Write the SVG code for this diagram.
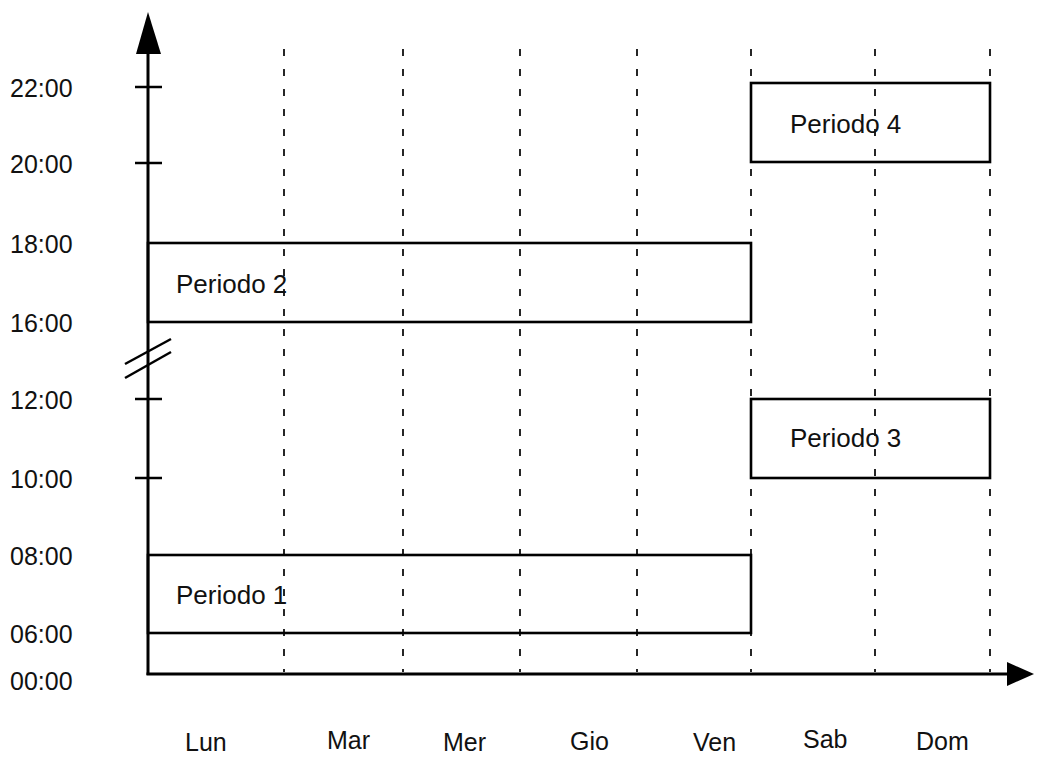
<svg xmlns="http://www.w3.org/2000/svg" width="1042" height="757" viewBox="0 0 1042 757">
  <style>
    .lbl { font-family: "Liberation Sans", Arial, sans-serif; font-size: 25px; fill: #111; }
    .plbl { font-size: 26px; }
    .axis { stroke: #000; stroke-width: 3; fill: none; }
    .tick { stroke: #000; stroke-width: 2.5; }
    .grid { stroke: #000; stroke-width: 1.7; stroke-dasharray: 7 13; }
    .period { fill: none; stroke: #000; stroke-width: 2.6; }
  </style>
  <rect width="1042" height="757" fill="#fff"/>

  <!-- day separators -->
  <g id="grid">
    <line class="grid" x1="284" y1="49" x2="284" y2="672"/>
    <line class="grid" x1="403" y1="49" x2="403" y2="672"/>
    <line class="grid" x1="520" y1="49" x2="520" y2="672"/>
    <line class="grid" x1="637" y1="49" x2="637" y2="672"/>
    <line class="grid" x1="751" y1="49" x2="751" y2="672"/>
    <line class="grid" x1="875" y1="49" x2="875" y2="672"/>
    <line class="grid" x1="990" y1="49" x2="990" y2="672"/>
  </g>

  <!-- time periods -->
  <g id="periodo4">
    <rect class="period" x="751" y="83" width="239" height="79"/>
    <text class="lbl plbl" x="790" y="133">Periodo 4</text>
  </g>
  <g id="periodo2">
    <rect class="period" x="148" y="243" width="603" height="79"/>
    <text class="lbl plbl" x="176" y="293">Periodo 2</text>
  </g>
  <g id="periodo3">
    <rect class="period" x="751" y="399" width="239" height="79"/>
    <text class="lbl plbl" x="790" y="447">Periodo 3</text>
  </g>
  <g id="periodo1">
    <rect class="period" x="148" y="555" width="603" height="78"/>
    <text class="lbl plbl" x="176" y="604">Periodo 1</text>
  </g>

  <!-- axes -->
  <g id="axes">
    <line class="axis" x1="148" y1="50" x2="148" y2="675"/>
    <polygon points="148,12 136,54 161,54" fill="#000"/>
    <line class="axis" x1="146.5" y1="674" x2="1010" y2="674"/>
    <polygon points="1007,662 1034,674 1007,686" fill="#000"/>
    <line class="tick" x1="135" y1="87" x2="162" y2="87"/>
    <line class="tick" x1="135" y1="163" x2="162" y2="163"/>
    <line class="tick" x1="135" y1="399" x2="162" y2="399"/>
    <line class="tick" x1="135" y1="478" x2="162" y2="478"/>
    <!-- axis break -->
    <line class="tick" x1="125" y1="364" x2="171" y2="339"/>
    <line class="tick" x1="125" y1="378" x2="171" y2="352"/>
  </g>

  <!-- hour labels -->
  <g id="hours">
    <text class="lbl" x="10" y="97">22:00</text>
    <text class="lbl" x="10" y="173">20:00</text>
    <text class="lbl" x="10" y="253">18:00</text>
    <text class="lbl" x="10" y="332">16:00</text>
    <text class="lbl" x="10" y="409">12:00</text>
    <text class="lbl" x="10" y="488">10:00</text>
    <text class="lbl" x="10" y="565">08:00</text>
    <text class="lbl" x="10" y="643">06:00</text>
    <text class="lbl" x="10" y="690">00:00</text>
  </g>

  <!-- day labels -->
  <g id="days">
    <text class="lbl" x="185" y="751">Lun</text>
    <text class="lbl" x="327" y="749">Mar</text>
    <text class="lbl" x="443" y="751">Mer</text>
    <text class="lbl" x="570" y="750">Gio</text>
    <text class="lbl" x="693" y="751">Ven</text>
    <text class="lbl" x="803" y="748">Sab</text>
    <text class="lbl" x="916" y="750">Dom</text>
  </g>
</svg>
